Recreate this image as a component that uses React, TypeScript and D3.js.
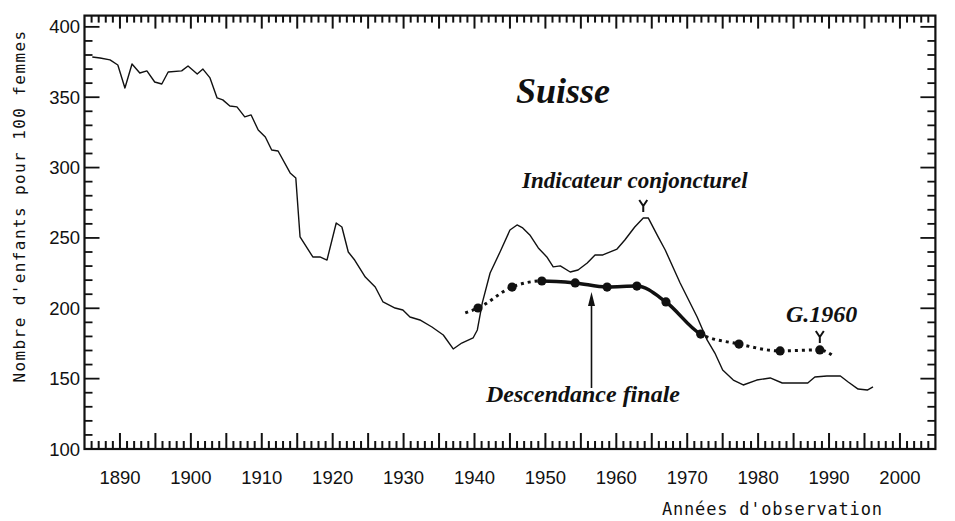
import React, { useEffect, useRef } from "react";
import * as d3 from "d3";

// Indicateur conjoncturel de fécondité (enfants pour 100 femmes)
const icYears = [
  1886.1, 1887.2, 1888.6, 1889.7, 1890.7, 1891.7, 1892.8, 1893.8, 1894.9, 1895.9,
  1896.8, 1898.7, 1899.6, 1900.9, 1901.7, 1902.7, 1903.7, 1904.5, 1905.5, 1906.5,
  1907.6, 1908.5, 1909.5, 1910.5, 1911.4, 1912.3, 1914.0, 1914.8, 1915.4, 1917.2,
  1918.2, 1919.2, 1920.5, 1921.3, 1922.2, 1923.1, 1924.6, 1926.0, 1927.1, 1928.8,
  1929.9, 1930.9, 1932.3, 1934.0, 1935.6, 1937.0, 1938.2, 1939.8, 1940.4, 1941.1,
  1942.2, 1943.6, 1945.0, 1946.0, 1946.8, 1947.8, 1949.0, 1950.2, 1951.1, 1952.1,
  1953.5, 1954.6, 1955.9, 1957.0, 1958.1, 1960.1, 1961.2, 1962.6, 1963.8, 1964.5,
  1965.9, 1966.9, 1969.0, 1971.4, 1972.8, 1973.9, 1975.0, 1976.5, 1977.9, 1979.8,
  1981.7, 1983.4, 1985.5, 1987.0, 1988.0, 1989.7, 1991.6, 1992.7, 1994.1, 1995.4,
  1996.2,
];
const icValues = [
  378.6, 377.9, 376.5, 372.9, 356.6, 373.6, 367.2, 368.7, 360.8, 359.4,
  367.9, 368.7, 372.2, 366.5, 370.0, 363.7, 349.5, 348.1, 343.8, 343.1,
  336.0, 337.4, 326.7, 321.7, 312.5, 311.8, 296.2, 292.6, 250.7, 236.5,
  236.5, 234.3, 260.6, 257.8, 240.0, 234.3, 222.2, 215.1, 204.5, 200.2,
  198.8, 193.8, 191.7, 186.7, 181.0, 171.1, 175.3, 178.9, 184.6, 203.8,
  225.1, 240.0, 255.6, 259.2, 257.1, 252.1, 242.9, 236.5, 229.4, 230.1,
  225.8, 227.2, 232.2, 237.9, 237.9, 242.1, 248.5, 257.8, 264.2, 264.2,
  250.7, 241.4, 218.0, 193.8, 177.5, 168.2, 156.1, 149.0, 145.5, 149.0,
  150.5, 146.9, 146.9, 146.9, 151.2, 151.9, 151.9, 147.6, 142.6, 141.9,
  144.1,
];

// Descendance finale des générations, placée à l'année d'observation
const dfYears = [1938.7, 1940.5, 1945.3, 1949.5, 1954.2, 1958.7, 1962.9, 1967.0, 1971.9, 1977.3, 1983.1, 1988.7, 1990.8];
const dfValues = [196.7, 200.2, 215.1, 219.4, 218.0, 215.1, 215.8, 204.5, 181.7, 174.6, 169.7, 170.4, 165.4];
const dfDots = [false, true, true, true, true, true, true, true, true, true, true, true, false];
const dfSolidFrom = 1949.5;
const dfSolidTo = 1971.9;

const xTicks = [1890, 1900, 1910, 1920, 1930, 1940, 1950, 1960, 1970, 1980, 1990, 2000];
const yTicks = [100, 150, 200, 250, 300, 350, 400];

const serif = "'Liberation Serif', 'Times New Roman', serif";
const mono = "'DejaVu Sans Mono', monospace";
const sans = "'Liberation Sans', Arial, sans-serif";

const App = () => {
  const ref = useRef<SVGSVGElement | null>(null);

  useEffect(() => {
    if (!ref.current) return;
    const svg = d3.select(ref.current);
    svg.selectAll("*").remove();

    const x = d3.scaleLinear().domain([1885, 2005]).range([84.5, 935.4]);
    const y = d3.scaleLinear().domain([100, 408]).range([449, 15.6]);
    const ink = "#111";

    // frame
    svg.append("rect")
      .attr("x", x(1885)).attr("y", y(408))
      .attr("width", x(2005) - x(1885)).attr("height", y(100) - y(408))
      .attr("fill", "none").attr("stroke", ink).attr("stroke-width", 2.2);

    // year ticks, bottom and top, pointing inward
    const years = d3.range(1886, 2005);
    svg.append("g").selectAll("line").data(years).enter().append("line")
      .attr("x1", d => x(d)).attr("x2", d => x(d))
      .attr("y1", y(100)).attr("y2", d => y(100) - (d % 5 === 0 ? 16 : 8))
      .attr("stroke", ink).attr("stroke-width", 2);
    svg.append("g").selectAll("line").data(years).enter().append("line")
      .attr("x1", d => x(d)).attr("x2", d => x(d))
      .attr("y1", y(408)).attr("y2", d => y(408) + (d % 5 === 0 ? 13 : 7))
      .attr("stroke", ink).attr("stroke-width", 2);

    // value ticks, left and right
    const vals = d3.range(110, 401, 10);
    svg.append("g").selectAll("line").data(vals).enter().append("line")
      .attr("x1", x(1885)).attr("x2", d => x(1885) + (d % 50 === 0 ? 15 : 8))
      .attr("y1", d => y(d)).attr("y2", d => y(d))
      .attr("stroke", ink).attr("stroke-width", 1.8);
    svg.append("g").selectAll("line").data(vals).enter().append("line")
      .attr("x1", x(2005)).attr("x2", d => x(2005) - (d % 50 === 0 ? 15 : 8))
      .attr("y1", d => y(d)).attr("y2", d => y(d))
      .attr("stroke", ink).attr("stroke-width", 1.8);

    // tick labels
    svg.append("g").selectAll("text").data(xTicks).enter().append("text")
      .attr("x", d => x(d)).attr("y", 484)
      .attr("text-anchor", "middle")
      .style("font-family", sans).style("font-size", "18.5px").attr("fill", ink)
      .text(d => d);
    svg.append("g").selectAll("text").data(yTicks).enter().append("text")
      .attr("x", 80).attr("y", d => y(d) + 6.5)
      .attr("text-anchor", "end")
      .style("font-family", sans).style("font-size", "18.5px").attr("fill", ink)
      .text(d => d);

    // axis titles
    svg.append("text")
      .attr("transform", "translate(25,206) rotate(-90)")
      .attr("text-anchor", "middle")
      .style("font-family", mono).style("font-size", "16px").style("letter-spacing", "1.4px")
      .attr("fill", ink)
      .text("Nombre d'enfants pour 100 femmes");
    svg.append("text")
      .attr("x", 662).attr("y", 515)
      .style("font-family", mono).style("font-size", "17px").style("letter-spacing", "0.8px")
      .attr("fill", ink)
      .text("Années d'observation");

    // indicateur conjoncturel
    const icLine = d3.line<number>()
      .x((_, i) => x(icYears[i]))
      .y(d => y(d));
    svg.append("path")
      .attr("d", icLine(icValues))
      .attr("fill", "none").attr("stroke", ink).attr("stroke-width", 1.4)
      .attr("stroke-linejoin", "round");

    // descendance finale: solid between observed generations, dotted outside
    const defs = svg.append("defs");
    defs.append("clipPath").attr("id", "df-solid").append("rect")
      .attr("x", x(dfSolidFrom)).attr("y", 0)
      .attr("width", x(dfSolidTo) - x(dfSolidFrom)).attr("height", 521);
    const dotted = defs.append("clipPath").attr("id", "df-dotted");
    dotted.append("rect").attr("x", 0).attr("y", 0).attr("width", x(dfSolidFrom)).attr("height", 521);
    dotted.append("rect").attr("x", x(dfSolidTo)).attr("y", 0).attr("width", 955 - x(dfSolidTo)).attr("height", 521);

    const dfLine = d3.line<number>()
      .x((_, i) => x(dfYears[i]))
      .y(d => y(d))
      .curve(d3.curveMonotoneX);
    svg.append("path")
      .attr("d", dfLine(dfValues))
      .attr("clip-path", "url(#df-solid)")
      .attr("fill", "none").attr("stroke", ink).attr("stroke-width", 3.5);
    svg.append("path")
      .attr("d", dfLine(dfValues))
      .attr("clip-path", "url(#df-dotted)")
      .attr("fill", "none").attr("stroke", ink).attr("stroke-width", 3)
      .attr("stroke-dasharray", "3 4");
    svg.append("g").selectAll("circle")
      .data(dfValues.map((v, i) => ({ yr: dfYears[i], v, dot: dfDots[i] })).filter(d => d.dot))
      .enter().append("circle")
      .attr("cx", d => x(d.yr)).attr("cy", d => y(d.v)).attr("r", 4.6)
      .attr("fill", ink);

    // titles and annotations
    const label = (t: string, px: number, py: number, size: number, anchor = "start") =>
      svg.append("text")
        .attr("x", px).attr("y", py).attr("text-anchor", anchor)
        .style("font-family", serif).style("font-size", `${size}px`)
        .style("font-weight", "bold").style("font-style", "italic")
        .attr("fill", ink).text(t);
    label("Suisse", 563, 103, 36, "middle");
    label("Indicateur conjoncturel", 522, 188, 23);
    label("Descendance finale", 486, 402, 24);
    label("G.1960", 786, 322, 24);

    // little "Y" pointers
    const pointer = (cx: number, top: number) =>
      svg.append("path")
        .attr("d", `M${cx - 4},${top} L${cx},${top + 6} L${cx + 4},${top} M${cx},${top + 6} L${cx},${top + 12}`)
        .attr("fill", "none").attr("stroke", ink).attr("stroke-width", 2);
    pointer(x(1963.8), 200);
    pointer(x(1988.7), 331);

    // arrow to the descendance curve
    const ax = x(1956.5);
    svg.append("line")
      .attr("x1", ax).attr("x2", ax).attr("y1", 388).attr("y2", 300)
      .attr("stroke", ink).attr("stroke-width", 1.6);
    svg.append("path")
      .attr("d", `M${ax},292 L${ax - 3.5},306 L${ax + 3.5},306 Z`)
      .attr("fill", ink);
  }, []);

  return (
    <svg
      ref={ref}
      width={955}
      height={521}
      style={{ position: "absolute", left: 0, top: 0, background: "#fff" }}
    />
  );
};

export default App;
